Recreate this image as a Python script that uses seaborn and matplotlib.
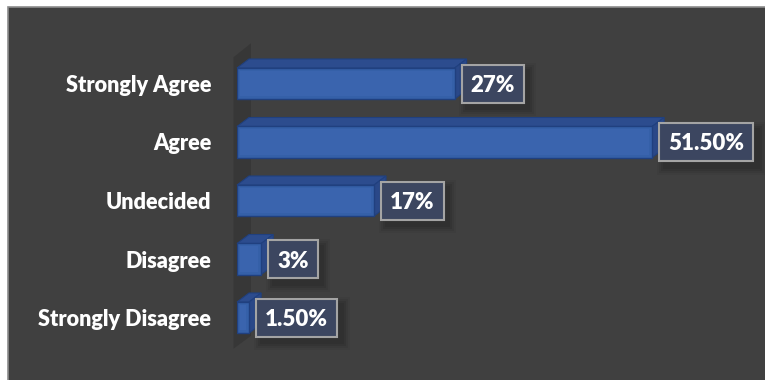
import matplotlib
matplotlib.use("Agg")
import matplotlib.pyplot as plt
import seaborn as sns
import pandas as pd
from matplotlib.patches import Polygon, Rectangle
from matplotlib.transforms import IdentityTransform

# Survey responses (share of respondents, %)
categories = ["Strongly Agree", "Agree", "Undecided", "Disagree", "Strongly Disagree"]
values = [27, 51.5, 17, 3, 1.5]
value_labels = ["27%", "51.50%", "17%", "3%", "1.50%"]

df = pd.DataFrame({"response": categories, "share": values})

W, H = 765, 380
DPI = 100

sns.set_theme(style="white")
plt.rcParams["font.family"] = ["Lato", "DejaVu Sans"]

fig = plt.figure(figsize=(W / DPI, H / DPI), dpi=DPI, facecolor="white")

# dark chart panel with a thin grey frame (open on the right and bottom edges)
panel = Rectangle((8 / W, -0.02), 1 - 8 / W + 0.02, (H - 7) / H + 0.02, transform=fig.transFigure,
                  facecolor="#404040", edgecolor="#8c8c8c", linewidth=1.2, zorder=-5)
fig.patches.append(panel)

# plot area geometry (pixels)
x0_px, x1_px = 237, 757
px_per_unit = 8.06
top_px, bot_px = 54.25, 346.75
ax = fig.add_axes([x0_px / W, (H - bot_px) / H, (x1_px - x0_px) / W, (bot_px - top_px) / H])
ax.patch.set_alpha(0)

front = "#3560a8"
edge = "#20407f"
sns.barplot(data=df, x="share", y="response", orient="h", color=front, width=0.53,
            saturation=1, edgecolor=edge, linewidth=1.0, ax=ax, zorder=3)

ax.set_xlim(0, (x1_px - x0_px) / px_per_unit)
ax.set_ylim(4.5, -0.5)
ax.set_xlabel("")
ax.set_ylabel("")
ax.set_xticks([])
ax.tick_params(axis="y", length=0, pad=18.5)
for lab in ax.get_yticklabels():
    lab.set_color("white")
    lab.set_fontweight("heavy")
    lab.set_fontsize(15.6)
for s in ax.spines.values():
    s.set_visible(False)

# depth of the 3-D extrusion, in data units
unit_y = (bot_px - top_px) / 5.0
dx = 12 / px_per_unit
dy = 9 / unit_y

bars = list(ax.patches)

# back wall
wx0, wx1 = -3.5 / px_per_unit, 14 / px_per_unit
wall = Polygon([(wx0, -0.5 + 3 / unit_y), (wx1, -0.5 - 11 / unit_y),
                (wx1, 4.5 - 11 / unit_y), (wx0, 4.5 + 2 / unit_y)],
               closed=True, facecolor="#373737", edgecolor="none", zorder=1, clip_on=False)
ax.add_patch(wall)

for bar in bars:
    bx, by = bar.get_x(), bar.get_y()
    bw, bh = bar.get_width(), bar.get_height()
    ytop, ybot = by, by + bh
    x_end = bx + bw
    top_face = Polygon([(bx, ytop), (bx + dx, ytop - dy), (x_end + dx, ytop - dy), (x_end, ytop)],
                       closed=True, facecolor="#2c4c8e", edgecolor=edge, linewidth=0.8,
                       zorder=2.5, clip_on=False)
    side_face = Polygon([(x_end, ytop), (x_end + dx, ytop - dy), (x_end + dx, ybot - dy), (x_end, ybot)],
                        closed=True, facecolor="#2a4888", edgecolor=edge, linewidth=0.8,
                        zorder=2.6, clip_on=False)
    ax.add_patch(top_face)
    ax.add_patch(side_face)
    # soft highlight inside the front face
    inner = Rectangle((bx + 3 / px_per_unit, ytop + 3 / unit_y),
                      max(bw - 6 / px_per_unit, 0), bh - 6 / unit_y,
                      facecolor="#3a64ae", edgecolor="none", zorder=3.2)
    ax.add_patch(inner)

# value labels in framed boxes
texts = []
for i, (v, lab) in enumerate(zip(values, value_labels)):
    t = ax.text(v, i, lab, color="white", fontweight="heavy", fontsize=16,
                ha="center", va="center_baseline", zorder=6, clip_on=False)
    texts.append(t)
fig.canvas.draw()
renderer = fig.canvas.get_renderer()
for i, (v, t) in enumerate(zip(values, texts)):
    bb = t.get_window_extent(renderer)
    tw = bb.width
    xd, yd = ax.transData.transform((v, i))
    left = xd + 7
    box_w = tw + 18
    box_h = 38
    # soft drop shadow
    for k, a in enumerate([0.09, 0.07, 0.05, 0.04]):
        grow = 3 + 4 * k
        ax.add_patch(Rectangle((left + 5 - grow / 2, yd - box_h / 2 - 6 - grow / 2),
                               box_w + grow, box_h + grow, transform=IdentityTransform(),
                               facecolor="black", edgecolor="none", alpha=a, zorder=4,
                               clip_on=False))
    ax.add_patch(Rectangle((left, yd - box_h / 2), box_w, box_h, transform=IdentityTransform(),
                           facecolor="#3c4660", edgecolor="#a4a4a4", linewidth=1.5, zorder=5,
                           clip_on=False))
    cx = left + box_w / 2
    t.set_position(ax.transData.inverted().transform((cx, yd)))

fig.savefig("out.png", dpi=DPI, facecolor=fig.get_facecolor())
